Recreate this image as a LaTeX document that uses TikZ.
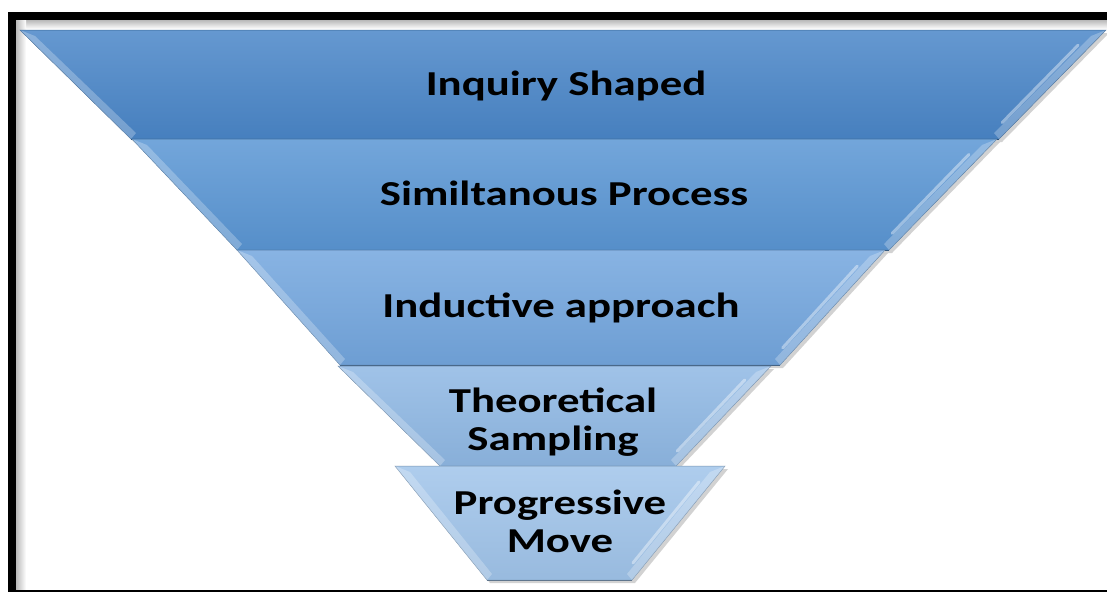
\documentclass[tikz,border=0pt]{standalone}
\usepackage{fontspec}
\setmainfont{Carlito}
\usetikzlibrary{shadows}

\definecolor{layA}{RGB}{74,134,200}
\definecolor{layB}{RGB}{90,150,212}
\definecolor{layC}{RGB}{115,166,222}
\definecolor{layD}{RGB}{143,184,228}
\definecolor{layE}{RGB}{160,196,234}

\begin{document}
\begin{tikzpicture}[x=1pt,y=-1pt,
    layer/.style={draw=#1!75!black, line width=.5pt, top color=#1!85!white, bottom color=#1!95!black,
      drop shadow={shadow xshift=3pt,shadow yshift=-3pt,opacity=.35}},
    bevel/.style={fill=white, opacity=.25},
    lbl/.style={font=\fontsize{35}{38}\selectfont\bfseries, xscale=1.28, align=center, inner sep=0pt}]
    \useasboundingbox (0,0) rectangle (1107,592);
    \fill[white] (0,0) rectangle (1107,592);

    % frame
    \shade[top color=gray!55, bottom color=white] (16,20) rectangle (1107,29);
    \shade[left color=gray!55, right color=white] (16,20) rectangle (26,590);
    \fill[black] (8,12) rectangle (1107,20);
    \fill[black] (8,12) rectangle (16,592);
    \fill[black] (8,590) rectangle (1107,592);

    % funnel layers: top y / bottom y / top left / top right / bottom left / bottom right
    \foreach \yt/\yb/\lt/\rt/\lb/\rb/\col in {30/139/20/1106/131/999/layA,
                                             139/250/132/997/237/889/layB,
                                             250/365/237/885/340/780/layC,
                                             366/466/338/771/440/676/layD,
                                             466/580/395/725/487/632/layE}
    {
        \draw[layer=\col] (\lt,\yt) -- (\rt,\yt) -- (\rb,\yb) -- (\lb,\yb) -- cycle;
        \fill[bevel] (\lt,\yt) -- (\lt+15,\yt+6) -- (\lb+5,\yb-6) -- (\lb,\yb) -- cycle;
        \fill[bevel] (\rt,\yt) -- (\rt-15,\yt+6) -- (\rb-5,\yb-6) -- (\rb,\yb) -- cycle;
        \draw[white, opacity=.4, line width=3pt, line cap=round]
            ({\rt+.14*(\rb-\rt)-13},{\yt+.14*(\yb-\yt)}) -- ({\rt+.85*(\rb-\rt)-13},{\yt+.85*(\yb-\yt)});
        \draw[\col!60!black, line width=1pt] (\lb,\yb) -- (\rb,\yb);
    }

    % labels
    \node[lbl, anchor=base] (inquiry) at (566,95) {Inquiry Shaped};
    \node[lbl, anchor=base] (simult) at (564,205) {Similtanous Process};
    \node[lbl, anchor=base] (induct) at (561,317) {Inductive approach};
    \node[lbl] (theory) at (553,422) {Theoretical\\Sampling};
    \node[lbl] (progress) at (560,521) {Progressive\\Move};
\end{tikzpicture}
\end{document}
